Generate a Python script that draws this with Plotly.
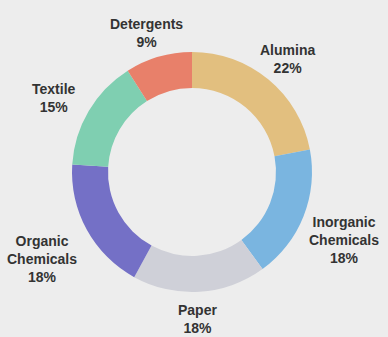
import math
import plotly.graph_objects as go

# Share of consumption by end use
categories = ["Alumina", "Inorganic<br>Chemicals", "Paper", "Organic<br>Chemicals", "Textile", "Detergents"]
shares = [22, 18, 18, 18, 15, 9]
colors = ["#e2bf7f", "#7ab5e0", "#cfd0d8", "#7470c6", "#7fcfb1", "#e8806a"]

W, H = 388, 337
CX, CY, R = 192, 172, 120          # ring centre and outer radius, px
FONT_SIZE = 14
GAP = 2

fig = go.Figure(
    go.Pie(
        labels=categories,
        values=shares,
        hole=0.70,
        sort=False,
        direction="clockwise",
        rotation=0,
        marker=dict(colors=colors, line=dict(width=0)),
        textinfo="none",
        domain=dict(x=[(CX - R) / W, (CX + R) / W], y=[1 - (CY + R) / H, 1 - (CY - R) / H]),
        showlegend=False,
        hoverinfo="skip",
    )
)

# Labels sit outside the ring along each slice's mid-angle, far enough
# out that the text block clears the outer edge
total = sum(shares)
cum = 0
for name, val in zip(categories, shares):
    mid = (cum + val / 2) / total * 2 * math.pi
    cum += val
    s, c = math.sin(mid), math.cos(mid)
    lines = name.split("<br>") + [f"{val}%"]
    hw = 0.30 * FONT_SIZE * max(len(t) for t in lines)
    hh = 0.65 * FONT_SIZE * len(lines)
    dist = R + GAP + abs(s) * hw + abs(c) * hh
    px = CX + dist * s - 3
    py = CY - dist * c + 6
    fig.add_annotation(
        x=px / W, y=1 - py / H, xref="paper", yref="paper",
        text=f"<b>{name}<br>{val}%</b>",
        showarrow=False, xanchor="center", yanchor="middle", align="center",
        font=dict(family="Liberation Sans", size=FONT_SIZE, color="#333333"),
    )

fig.update_layout(
    width=W,
    height=H,
    margin=dict(l=0, r=0, t=0, b=0),
    paper_bgcolor="#ededed",
    plot_bgcolor="#ededed",
)

fig.write_html("out.html")
